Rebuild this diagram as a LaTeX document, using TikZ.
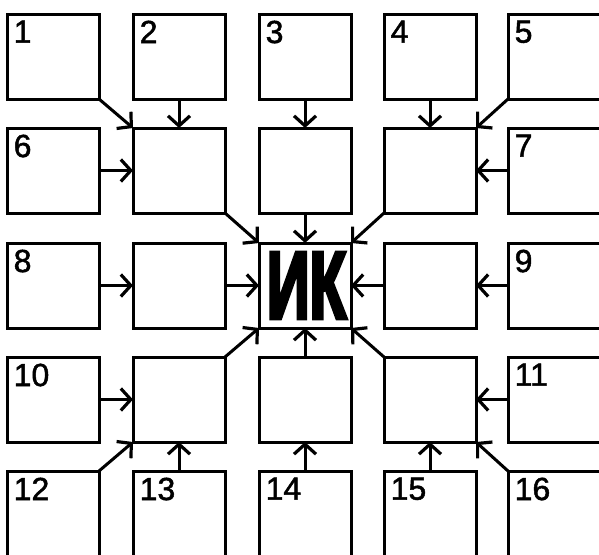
\documentclass[tikz,border=0pt]{standalone}
\usepackage{fontspec}
\usepackage{graphicx}
\setmainfont{Liberation Sans}
\newfontfamily\numfont[FakeBold=1.5]{Liberation Sans}
\newfontfamily\ikfont[FakeBold=5]{Liberation Sans Bold}
\usetikzlibrary{arrows.meta}
\begin{document}
\begin{tikzpicture}[x=1pt,y=-1pt,
  box/.style={draw, line width=3pt, minimum width=92pt, minimum height=85pt, inner sep=0pt, outer sep=0pt, anchor=north west},
  num/.style={label={[anchor=north west, inner sep=6.5pt, font=\numfont\fontsize{32}{32}\selectfont]north west:#1}},
  conn/.style={line width=3pt, -{Straight Barb[length=10pt,width=22pt,line width=3.2pt]}}
]
\useasboundingbox (0,0) rectangle (599,554);
\begin{scope}
\clip (0,0) rectangle (599,554);
% row 1
\node[box,num=1] (b1) at (7,14) {};
\node[box,num=2] (b2) at (133,14) {};
\node[box,num=3] (b3) at (259,14) {};
\node[box,num=4] (b4) at (384,14) {};
\node[box,num=5] (b5) at (508,14) {};
% row 2
\node[box,num=6] (b6) at (7,128) {};
\node[box] (c22) at (133,128) {};
\node[box] (c23) at (259,128) {};
\node[box] (c24) at (384,128) {};
\node[box,num=7] (b7) at (508,128) {};
% row 3
\node[box,num=8] (b8) at (7,243) {};
\node[box] (c32) at (133,243) {};
\node[box] (ik) at (259,243) {\hspace{3pt}\resizebox{79pt}{65pt}{\ikfont ИК}};
\node[box] (c34) at (384,243) {};
\node[box,num=9] (b9) at (508,243) {};
% row 4
\node[box,num=10] (b10) at (7,357) {};
\node[box] (c42) at (133,357) {};
\node[box] (c43) at (259,357) {};
\node[box] (c44) at (384,357) {};
\node[box,num=11] (b11) at (508,357) {};
% row 5
\node[box,num=12] (b12) at (7,471) {};
\node[box,num=13] (b13) at (133,471) {};
\node[box,num=14] (b14) at (259,471) {};
\node[box,num=15] (b15) at (384,471) {};
\node[box,num=16] (b16) at (508,471) {};
% connectors
\draw[conn] (b1.south east) -- (c22.north west);
\draw[conn] (b2.south) -- (c22.north);
\draw[conn] (b6.east) -- (c22.west);
\draw[conn] (b3.south) -- (c23.north);
\draw[conn] (b4.south) -- (c24.north);
\draw[conn] (b5.south west) -- (c24.north east);
\draw[conn] (b7.west) -- (c24.east);
\draw[conn] (c22.south east) -- (ik.north west);
\draw[conn] (c23.south) -- (ik.north);
\draw[conn] (c24.south west) -- (ik.north east);
\draw[conn] (b8.east) -- (c32.west);
\draw[conn] (c32.east) -- (ik.west);
\draw[conn] (b9.west) -- (c34.east);
\draw[conn] (c34.west) -- (ik.east);
\draw[conn] (b10.east) -- (c42.west);
\draw[conn] (c42.north east) -- (ik.south west);
\draw[conn] (c43.north) -- (ik.south);
\draw[conn] (c44.north west) -- (ik.south east);
\draw[conn] (b11.west) -- (c44.east);
\draw[conn] (b12.north east) -- (c42.south west);
\draw[conn] (b13.north) -- (c42.south);
\draw[conn] (b14.north) -- (c43.south);
\draw[conn] (b15.north) -- (c44.south);
\draw[conn] (b16.north west) -- (c44.south east);
\end{scope}
\end{tikzpicture}
\end{document}
